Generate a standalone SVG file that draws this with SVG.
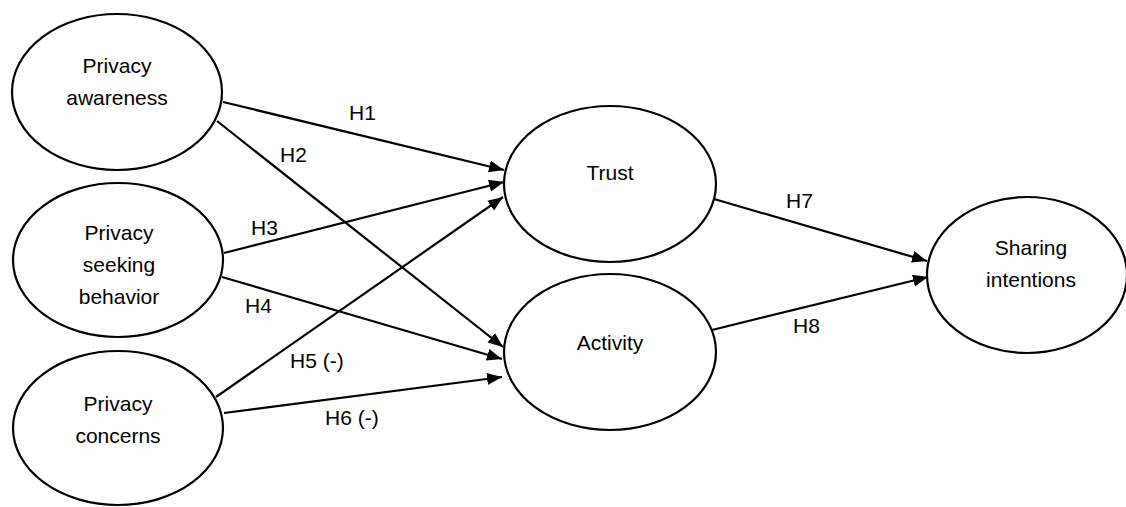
<svg xmlns="http://www.w3.org/2000/svg" width="1126" height="507" viewBox="0 0 1126 507">
<style>
.node ellipse{fill:#fff;stroke:#000;stroke-width:2.2}
text{font-family:"Liberation Sans",Arial,sans-serif;font-size:21px;fill:#000}
.node text{text-anchor:middle}
.conn line{stroke:#000;stroke-width:2.2}
</style>
<defs>
<marker id="ah" markerUnits="userSpaceOnUse" markerWidth="16" markerHeight="13" refX="15" refY="6" orient="auto">
<path d="M0,0 L15,6 L0,12 z" fill="#000"/>
</marker>
</defs>
<rect width="1126" height="507" fill="#fff"/>
<g id="n-awareness" class="node">
<ellipse cx="117" cy="92" rx="105" ry="78"/>
<text x="117" y="73">Privacy</text>
<text x="117" y="105">awareness</text>
</g>
<g id="n-seeking" class="node">
<ellipse cx="118" cy="260" rx="105" ry="77"/>
<text x="119" y="240">Privacy</text>
<text x="119" y="272">seeking</text>
<text x="119" y="304">behavior</text>
</g>
<g id="n-concerns" class="node">
<ellipse cx="118" cy="428" rx="105" ry="77"/>
<text x="118" y="411">Privacy</text>
<text x="118" y="443">concerns</text>
</g>
<g id="n-trust" class="node">
<ellipse cx="610" cy="184" rx="106" ry="78"/>
<text x="610" y="180">Trust</text>
</g>
<g id="n-activity" class="node">
<ellipse cx="610" cy="352" rx="106" ry="78"/>
<text x="610" y="350">Activity</text>
</g>
<g id="n-sharing" class="node">
<ellipse cx="1027" cy="275" rx="100" ry="78"/>
<text x="1031" y="255">Sharing</text>
<text x="1031" y="287">intentions</text>
</g>
<g id="connectors" class="conn">
<line x1="223" y1="102" x2="504" y2="170" marker-end="url(#ah)"/>
<line x1="217" y1="121" x2="503" y2="347" marker-end="url(#ah)"/>
<line x1="224" y1="253" x2="504" y2="182" marker-end="url(#ah)"/>
<line x1="222" y1="277" x2="502" y2="359" marker-end="url(#ah)"/>
<line x1="216" y1="397" x2="503" y2="197" marker-end="url(#ah)"/>
<line x1="224" y1="413" x2="502" y2="377" marker-end="url(#ah)"/>
<line x1="714" y1="199" x2="927" y2="261" marker-end="url(#ah)"/>
<line x1="712" y1="330" x2="928" y2="277" marker-end="url(#ah)"/>
</g>
<g id="labels">
<text x="349" y="120">H1</text>
<text x="280" y="162">H2</text>
<text x="251" y="235">H3</text>
<text x="245" y="313">H4</text>
<text x="290" y="368">H5 (-)</text>
<text x="325" y="425">H6 (-)</text>
<text x="786" y="208">H7</text>
<text x="793" y="333">H8</text>
</g>
</svg>
